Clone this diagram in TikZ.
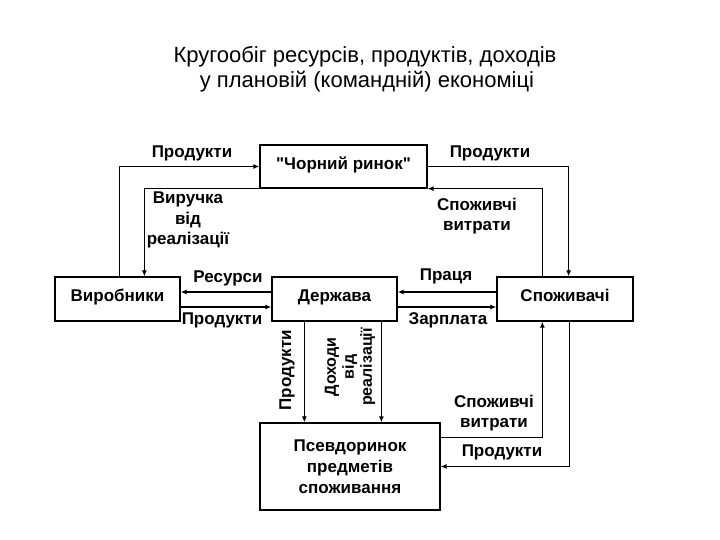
\documentclass[tikz,border=0pt]{standalone}
\usepackage{fontspec}
\setmainfont{Liberation Sans}[Ligatures=TeXOff]
\usetikzlibrary{arrows.meta}
\definecolor{PlanInk}{HTML}{000000}

\tikzset{
  planbox/.style={draw=PlanInk,line width=1.3pt,align=center,inner sep=0pt,
    font=\bfseries\fontsize{17}{21}\selectfont},
  planline/.style={planbox,text height=0.75em,text depth=0.22em},
  planflow/.style={draw=PlanInk,line width=1.3pt,-{Latex[length=6pt,width=5pt]}},
  planlabel/.style={align=center,font=\bfseries\fontsize{17}{20.5}\selectfont}
}

\begin{document}
\begin{tikzpicture}[x=1pt,y=-1pt]
\path[use as bounding box] (0,0) rectangle (720,540);
\fill[white] (0,0) rectangle (720,540);
% title
\node (title1) at (365,57) {\fontsize{22}{24}\selectfont Кругообіг ресурсів, продуктів, доходів};
\node (title2) at (367,82) {\fontsize{22}{24}\selectfont у плановій (командній) економіці};
% boxes
\node[planline,minimum width=167pt,minimum height=43pt] (black) at (343.5,166.5) {"Чорний ринок"};
\node[planline,minimum width=125pt,minimum height=44pt] (vyrob) at (117.5,299) {Виробники};
\node[planline,minimum width=125pt,minimum height=44pt] (derzh) at (334.5,299) {Держава};
\node[planline,minimum width=136pt,minimum height=44pt] (spozh) at (565,299) {Споживачі};
\node[planbox,minimum width=180pt,minimum height=87pt] (pseudo) at (350,466.5) {Псевдоринок\\предметів\\споживання};
% upper loop
\draw[planflow] ([xshift=65pt]vyrob.north west) |- (black.west);
\draw[planflow] (black.south west) -| ([xshift=90pt]vyrob.north west);
\draw[planflow] (black.east) -| ([xshift=-65pt]spozh.north east);
\draw[planflow] ([xshift=46pt]spozh.north west) |- (black.south east);
% middle row
\draw[planflow] ([yshift=7pt]derzh.west) -- ([yshift=7pt]vyrob.east);
\draw[planflow] ([yshift=-8pt]vyrob.east) -- ([yshift=-8pt]derzh.west);
\draw[planflow] ([yshift=7pt]spozh.west) -- ([yshift=7pt]derzh.east);
\draw[planflow] ([yshift=-8pt]derzh.east) -- ([yshift=-8pt]spozh.west);
% down to the pseudo-market
\draw[planflow] ([xshift=33pt]derzh.south west) coordinate (dp) -- (dp |- pseudo.north);
\draw[planflow] ([xshift=110pt]derzh.south west) coordinate (dd) -- (dd |- pseudo.north);
\draw[planflow] ([yshift=29pt]pseudo.east) -| ([xshift=46pt]spozh.south west);
\draw[planflow] ([xshift=-64pt]spozh.south east) |- (pseudo.east);
% labels
\node[planlabel] (l1) at (192,153) {Продукти};
\node[planlabel] (l2) at (188,220) {Виручка\\від\\реалізації};
\node[planlabel] (l3) at (490,153) {Продукти};
\node[planlabel] (l4) at (477,216) {Споживчі\\витрати};
\node[planlabel] (l5) at (228,278) {Ресурси};
\node[planlabel] (l6) at (222,320) {Продукти};
\node[planlabel] (l7) at (446,276) {Праця};
\node[planlabel] (l8) at (448,320) {Зарплата};
\node[planlabel,rotate=90] (l9) at (287,370) {Продукти};
\node[planlabel,rotate=90,font=\bfseries\fontsize{16}{18}\selectfont] (l10) at (350,367) {Доходи\\від\\реалізації};
\node[planlabel] (l11) at (494,413) {Споживчі\\витрати};
\node[planlabel] (l12) at (502,452) {Продукти};
\end{tikzpicture}
\end{document}
